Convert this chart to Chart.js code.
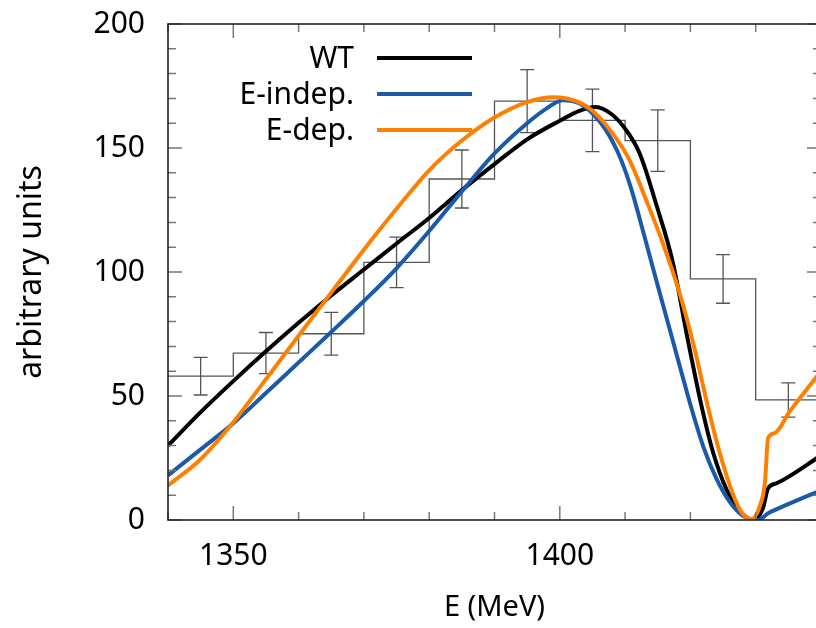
<!DOCTYPE html>
<html>
<head>
<meta charset="utf-8">
<script src="https://cdn.jsdelivr.net/npm/chart.js@4.4.1/dist/chart.umd.min.js"></script>
<style>
  html, body { margin: 0; padding: 0; overflow: hidden; background: #fff; }
  #wrap { width: 830px; height: 628px; }
</style>
</head>
<body>
<div id="wrap"><canvas id="c" width="830" height="628"></canvas></div>
<script>
// histogram (data): bin centres, counts and errors
const binCenters = [1345, 1355, 1365, 1375, 1385, 1395, 1405, 1415, 1425, 1435];
const binCounts  = [58.0, 67.3, 75.1, 103.9, 137.5, 168.9, 161.1, 153.0, 97.2, 48.4];
const binErrors  = [7.6, 8.3, 8.6, 10.2, 11.7, 12.7, 12.6, 12.4, 9.8, 6.9];
const binWidth = 10;

// WT curve
const wtE = [1340, 1345, 1350, 1355, 1360, 1365, 1370, 1375, 1380, 1385, 1390, 1395, 1400, 1403, 1405.5, 1408, 1409.7, 1412.2, 1414.8, 1417.3, 1419.5, 1421.7, 1423.5, 1425.5, 1427.5, 1429.6, 1431.1, 1431.9, 1433.2, 1440];
const wtV = [30.0, 43.5, 56.0, 68.0, 79.5, 90.5, 101.0, 111.5, 121.8, 133.0, 143.5, 153.5, 161.0, 165.0, 166.5, 163.5, 158.8, 148.0, 127.0, 104.0, 74.0, 46.0, 27.0, 12.5, 3.8, 0.0, 4.7, 12.8, 14.8, 26.0];

// E-indep. curve
const indepE = [1340, 1345, 1350, 1355, 1360, 1365, 1370, 1375, 1380, 1385, 1390, 1395, 1398, 1400.5, 1403, 1406, 1408, 1409.5, 1411, 1413, 1415, 1417, 1419, 1420, 1422, 1424, 1426, 1428, 1430.3, 1432.1, 1434.7, 1440];
const indepV = [18.0, 28.5, 39.0, 51.2, 63.5, 75.8, 88.3, 101.5, 116.5, 132.5, 147.8, 160.0, 166.0, 169.3, 168.0, 161.0, 153.0, 144.5, 133.0, 114.0, 94.5, 75.3, 56.0, 46.5, 29.4, 16.6, 7.4, 1.8, 0.0, 3.0, 6.1, 12.0];

// E-dep. curve
const depE = [1340, 1345, 1350, 1355, 1360, 1365, 1370, 1375, 1380, 1385, 1390, 1395, 1399, 1403, 1405.1, 1408.2, 1410.7, 1413.3, 1415.8, 1418.4, 1420.5, 1422.8, 1424.5, 1426.5, 1428, 1429.3, 1430.6, 1431.4, 1431.9, 1432.9, 1435.2, 1440];
const depV = [13.9, 24.5, 39.4, 56.8, 74.3, 91.7, 109.0, 125.5, 141.0, 153.0, 162.3, 168.5, 170.5, 168.4, 164.8, 155.5, 145.0, 128.5, 111.5, 91.0, 70.5, 44.4, 27.0, 10.5, 2.5, 0.3, 5.4, 14.8, 33.0, 35.0, 43.7, 60.0];

// axes
const xMajorTicks = [1350, 1400];
const yMajorTicks = [0, 50, 100, 150, 200];
const xMinorStep = 10;
const yMinorStep = 10;

const FONT = '"Noto Sans", "DejaVu Sans", sans-serif';

function pts(xs, ys) {
  return xs.map((x, i) => ({ x: x, y: ys[i] }));
}

// histogram as step line over bin edges
const histPoints = binCenters.map((c, i) => ({ x: c - binWidth / 2, y: binCounts[i] }));
histPoints.push({ x: binCenters[binCenters.length - 1] + binWidth / 2, y: binCounts[binCounts.length - 1] });

// inward ticks on all four sides + frame
const frameTicks = {
  id: 'frameTicks',
  afterDatasetsDraw(chart) {
    const { ctx, chartArea: a, scales: { x, y } } = chart;
    ctx.save();
    ctx.strokeStyle = '#777';
    ctx.lineWidth = 1.5;
    ctx.beginPath();
    for (let v = x.min; v <= x.max + 1e-6; v += xMinorStep) {
      const px = x.getPixelForValue(v);
      const len = xMajorTicks.includes(v) ? 14 : 8;
      ctx.moveTo(px, a.bottom); ctx.lineTo(px, a.bottom - len);
      ctx.moveTo(px, a.top); ctx.lineTo(px, a.top + len);
    }
    for (let v = y.min; v <= y.max + 1e-6; v += yMinorStep) {
      const py = y.getPixelForValue(v);
      const len = yMajorTicks.includes(v) ? 14 : 8;
      ctx.moveTo(a.left, py); ctx.lineTo(a.left + len, py);
      ctx.moveTo(a.right, py); ctx.lineTo(a.right - len, py);
    }
    ctx.stroke();
    ctx.strokeStyle = '#222';
    ctx.lineWidth = 1.6;
    ctx.strokeRect(a.left, a.top, a.right - a.left, a.bottom - a.top);
    ctx.restore();
  }
};

// error bars on histogram
const errorBars = {
  id: 'errorBars',
  beforeDatasetsDraw(chart) {
    const { ctx, scales: { x, y } } = chart;
    ctx.save();
    ctx.strokeStyle = '#555';
    ctx.lineWidth = 1.3;
    ctx.beginPath();
    binCenters.forEach((c, i) => {
      const px = x.getPixelForValue(c);
      const hi = y.getPixelForValue(binCounts[i] + binErrors[i]);
      const lo = y.getPixelForValue(binCounts[i] - binErrors[i]);
      ctx.moveTo(px, hi); ctx.lineTo(px, lo);
      ctx.moveTo(px - 7, hi); ctx.lineTo(px + 7, hi);
      ctx.moveTo(px - 7, lo); ctx.lineTo(px + 7, lo);
    });
    ctx.stroke();
    ctx.restore();
  }
};

// legend: text right-aligned, line sample to the right
const keyLegend = {
  id: 'keyLegend',
  afterDraw(chart) {
    const { ctx } = chart;
    const items = chart.data.datasets.filter(d => d.showKey);
    ctx.save();
    ctx.font = '30px ' + FONT;
    ctx.textAlign = 'right';
    ctx.textBaseline = 'middle';
    items.forEach((d, i) => {
      const yy = 58 + i * 36;
      ctx.fillStyle = '#000';
      ctx.fillText(d.label, 354, yy + 1);
      ctx.strokeStyle = d.borderColor;
      ctx.lineWidth = 4;
      ctx.beginPath();
      ctx.moveTo(377, yy); ctx.lineTo(472, yy);
      ctx.stroke();
    });
    ctx.restore();
  }
};

new Chart(document.getElementById('c'), {
  type: 'line',
  data: {
    datasets: [
      { label: 'WT', showKey: true, data: pts(wtE, wtV), borderColor: '#000000', borderWidth: 4, pointRadius: 0, cubicInterpolationMode: 'monotone', order: 3 },
      { label: 'E-indep.', showKey: true, data: pts(indepE, indepV), borderColor: '#1a5aa8', borderWidth: 4, pointRadius: 0, cubicInterpolationMode: 'monotone', order: 2 },
      { label: 'E-dep.', showKey: true, data: pts(depE, depV), borderColor: '#ff8000', borderWidth: 4, pointRadius: 0, cubicInterpolationMode: 'monotone', order: 1 },
      { label: 'data', data: histPoints, borderColor: '#555', borderWidth: 1.3, pointRadius: 0, stepped: 'before', order: 10 }
    ]
  },
  options: {
    responsive: false,
    animation: false,
    layout: { padding: { top: 24, right: 9, left: 0, bottom: 0 } },
    plugins: { legend: { display: false }, tooltip: { enabled: false } },
    scales: {
      x: {
        type: 'linear', min: 1340, max: 1440,
        afterBuildTicks: s => { s.ticks = xMajorTicks.map(v => ({ value: v })); },
        afterFit: s => { s.height = 108; s.paddingLeft = 0; s.paddingRight = 0; },
        grid: { display: false, drawTicks: false },
        border: { display: false },
        ticks: { color: '#000', padding: 18, font: { family: FONT, size: 30 }, callback: v => String(v) },
        title: { display: true, text: 'E (MeV)', color: '#000', padding: { top: 0, bottom: 3 }, font: { family: FONT, size: 29 } }
      },
      y: {
        type: 'linear', min: 0, max: 200,
        afterBuildTicks: s => { s.ticks = yMajorTicks.map(v => ({ value: v })); },
        afterFit: s => { s.width = 168; s.paddingTop = 0; s.paddingBottom = 0; },
        grid: { display: false, drawTicks: false },
        border: { display: false },
        ticks: { color: '#000', padding: 23, font: { family: FONT, size: 30 }, callback: v => String(v) },
        title: { display: true, text: 'arbitrary units', color: '#000', padding: { top: 13, bottom: 0 }, font: { family: FONT, size: 32 } }
      }
    }
  },
  plugins: [errorBars, frameTicks, keyLegend]
});
</script>
</body>
</html>
